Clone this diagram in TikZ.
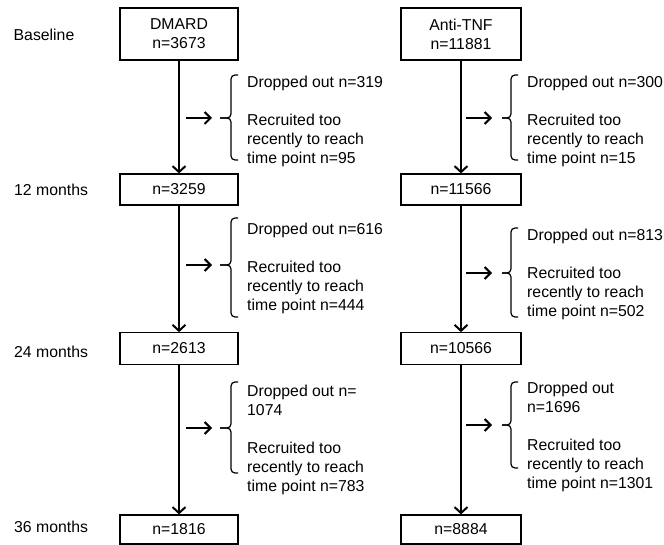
\documentclass[tikz,border=0pt]{standalone}
\usepackage{fontspec}
\setmainfont{Liberation Sans}
\usetikzlibrary{arrows.meta}
\begin{document}
\begin{tikzpicture}[x=1pt,y=-1pt,
  font=\fontsize{15.8}{19}\selectfont,
  box/.style={draw, line width=1.2pt, inner sep=0pt, align=center},
  flow/.style={line width=1.3pt, -{Straight Barb[length=6pt,width=13pt,line width=2pt]}},
  side/.style={line width=1.6pt, -{Straight Barb[length=6pt,width=12pt,line width=2pt]}},
  curlybrace/.style={line width=1.2pt, rounded corners=4pt},
  note/.style={anchor=west, align=left, inner sep=0pt},
  lab/.style={anchor=west, inner sep=0pt}]
\useasboundingbox (0,0) rectangle (664,545);

% row labels
\node[lab] (lb0) at (13.5,35) {Baseline};
\node[lab] (lb12) at (14,190) {12 months};
\node[lab] (lb24) at (14,352) {24 months};
\node[lab] (lb36) at (14,527) {36 months};

% boxes
\node[box, minimum width=118pt, minimum height=52pt] (b0L) at (179,34) {DMARD\\n=3673};
\node[box, minimum width=120pt, minimum height=52pt] (b0R) at (461,34) {Anti-TNF\\n=11881};
\node[box, minimum width=118pt, minimum height=31pt] (b12L) at (179,189.5) {n=3259};
\node[box, minimum width=120pt, minimum height=31pt] (b12R) at (461,189.5) {n=11566};
\node[box, minimum width=118pt, minimum height=31.5pt] (b24L) at (179,348.5) {n=2613};
\node[box, minimum width=120pt, minimum height=31.5pt] (b24R) at (461,348.5) {n=10566};
\node[box, minimum width=118pt, minimum height=29pt] (b36L) at (179,529.5) {n=1816};
\node[box, minimum width=120pt, minimum height=29pt] (b36R) at (461,529.5) {n=8884};

% main flow
\draw[flow] (b0L) -- (b12L);
\draw[flow] (b12L) -- (b24L);
\draw[flow] (b24L) -- (b36L);
\draw[flow] (b0R) -- (b12R);
\draw[flow] (b12R) -- (b24R);
\draw[flow] (b24R) -- (b36R);

% notes
\node[note] (n1L) at (247,121) {Dropped out n=319\\[19pt]Recruited too\\recently to reach\\time point n=95};
\node[note] (n1R) at (527,121) {Dropped out n=300\\[19pt]Recruited too\\recently to reach\\time point n=15};
\node[note] (n2L) at (247,268.5) {Dropped out n=616\\[19pt]Recruited too\\recently to reach\\time point n=444};
\node[note] (n2R) at (527,274.5) {Dropped out n=813\\[19pt]Recruited too\\recently to reach\\time point n=502};
\node[note] (n3L) at (247,440) {Dropped out n=\\1074\\[19pt]Recruited too\\recently to reach\\time point n=783};
\node[note] (n3R) at (527,437) {Dropped out\\n=1696\\[19pt]Recruited too\\recently to reach\\time point n=1301};

% braces
\draw[curlybrace] (238,75) -- (231,75) -- (231,118) -- (220,118);
\draw[curlybrace] (238,160) -- (231,160) -- (231,118) -- (220,118);
\draw[curlybrace] (518,75) -- (511,75) -- (511,118) -- (502,118);
\draw[curlybrace] (518,160) -- (511,160) -- (511,118) -- (502,118);
\draw[curlybrace] (238,218) -- (231,218) -- (231,265) -- (220,265);
\draw[curlybrace] (238,317) -- (231,317) -- (231,265) -- (220,265);
\draw[curlybrace] (518,228) -- (511,228) -- (511,273) -- (502,273);
\draw[curlybrace] (518,317) -- (511,317) -- (511,273) -- (502,273);
\draw[curlybrace] (238,382) -- (231,382) -- (231,428) -- (220,428);
\draw[curlybrace] (238,473) -- (231,473) -- (231,428) -- (220,428);
\draw[curlybrace] (518,382) -- (511,382) -- (511,425) -- (502,425);
\draw[curlybrace] (518,468) -- (511,468) -- (511,425) -- (502,425);

% side arrows
\coordinate (s1L) at (186,118); \coordinate (e1L) at (212,118);
\coordinate (s1R) at (466,118); \coordinate (e1R) at (492,118);
\coordinate (s2L) at (186,265); \coordinate (e2L) at (212,265);
\coordinate (s2R) at (466,273); \coordinate (e2R) at (492,273);
\coordinate (s3L) at (186,428); \coordinate (e3L) at (212,428);
\coordinate (s3R) at (466,425); \coordinate (e3R) at (492,425);
\draw[side] (s1L) -- (e1L);
\draw[side] (s1R) -- (e1R);
\draw[side] (s2L) -- (e2L);
\draw[side] (s2R) -- (e2R);
\draw[side] (s3L) -- (e3L);
\draw[side] (s3R) -- (e3R);
\end{tikzpicture}
\end{document}
